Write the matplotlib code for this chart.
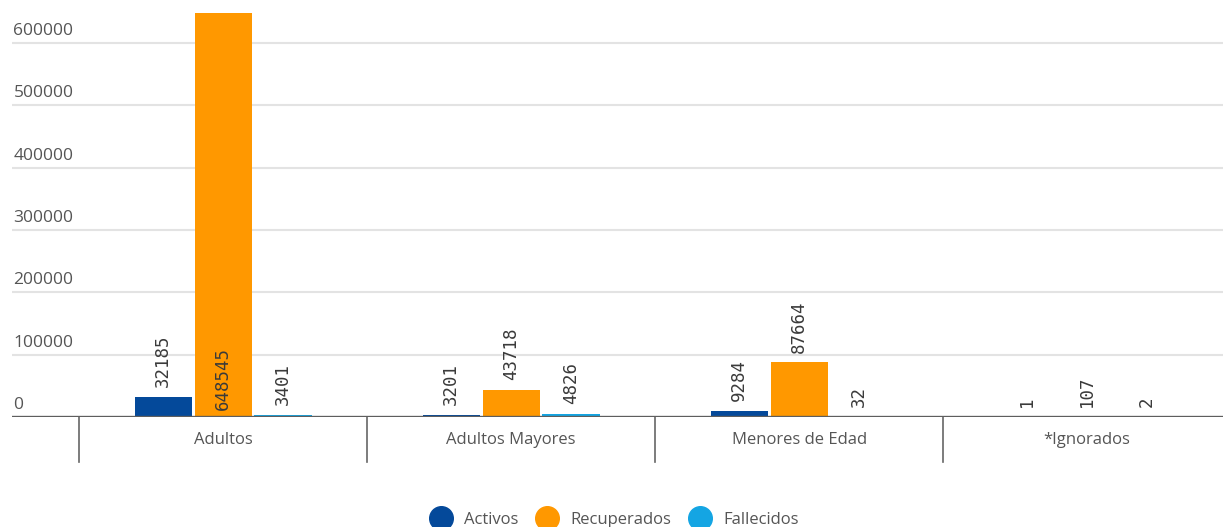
import numpy as np
import matplotlib
matplotlib.use("Agg")
import matplotlib.pyplot as plt
from matplotlib.lines import Line2D
import matplotlib.transforms as mtransforms

categories = ["Adultos", "Adultos Mayores", "Menores de Edad", "*Ignorados"]
series_names = ["Activos", "Recuperados", "Fallecidos"]
activos = [32185, 3201, 9284, 1]
recuperados = [648545, 43718, 87664, 107]
fallecidos = [3401, 4826, 32, 2]
y_ticks = [0, 100000, 200000, 300000, 400000, 500000, 600000]

COLORS = ["#04499a", "#ff9800", "#14a5e3"]
TEXT = "#555555"
GRID = "#e3e3e3"
FONT = "Open Sans"

fig = plt.figure(figsize=(12.23, 5.27), dpi=100, facecolor="white")
ax = fig.add_axes([12 / 1223, 1 - 417 / 527, 1 - 12 / 1223, 417 / 527])

x = np.arange(len(categories))
width = 0.198
step = 0.208
for k, (name, vals) in enumerate(zip(series_names, [activos, recuperados, fallecidos])):
    xs = x + (k - 1) * step
    ax.bar(xs, vals, width, color=COLORS[k], zorder=2, linewidth=0)
    for xi, v in zip(xs, vals):
        # labels that would not fit above the bar are drawn at its base
        anchor = 0 if v > 300000 else v
        ax.annotate(str(v), (xi, anchor), xytext=(0, 5 if v > 300000 else 7),
                    textcoords="offset points", rotation=90, ha="center",
                    va="bottom", fontsize=12.5, family="DejaVu Sans Mono",
                    color="#3a3a3a", zorder=3)

ax.set_xlim(-0.733, 3.472)
ax.set_ylim(0, 669000)

for t in y_ticks[1:]:
    ax.axhline(t, color=GRID, linewidth=1.5, zorder=1)
for t in y_ticks:
    ax.annotate(str(t), (0, t), xycoords=("axes fraction", "data"), xytext=(1, 3),
                textcoords="offset points", ha="left", va="bottom",
                fontsize=12.5, family=FONT, color=TEXT)

ax.axhline(0, color="#5e5e5e", linewidth=2.4, zorder=4)

# category separators below the axis
trans = mtransforms.blended_transform_factory(ax.transData, ax.transAxes)
for b in np.arange(len(categories) + 1) - 0.5:
    ax.add_line(Line2D([b, b], [0, -45 / 417], transform=trans, color="#666666",
                       linewidth=1.2, clip_on=False))

ax.set_xticks(x)
ax.set_xticklabels(categories, fontsize=12, family=FONT, color=TEXT)
ax.tick_params(axis="x", length=0, pad=11)
ax.set_yticks([])
for s in ax.spines.values():
    s.set_visible(False)

handles = [Line2D([], [], marker="o", linestyle="none", markersize=17,
                  color=c, label=n) for c, n in zip(COLORS, series_names)]
leg = fig.legend(handles=handles, loc="lower center", bbox_to_anchor=(0.5, -0.03),
                 ncol=3, frameon=False, handletextpad=0.4, columnspacing=0.7,
                 prop={"family": FONT, "size": 12})
for txt in leg.get_texts():
    txt.set_color(TEXT)

fig.savefig("out.png", dpi=100, facecolor="white")
